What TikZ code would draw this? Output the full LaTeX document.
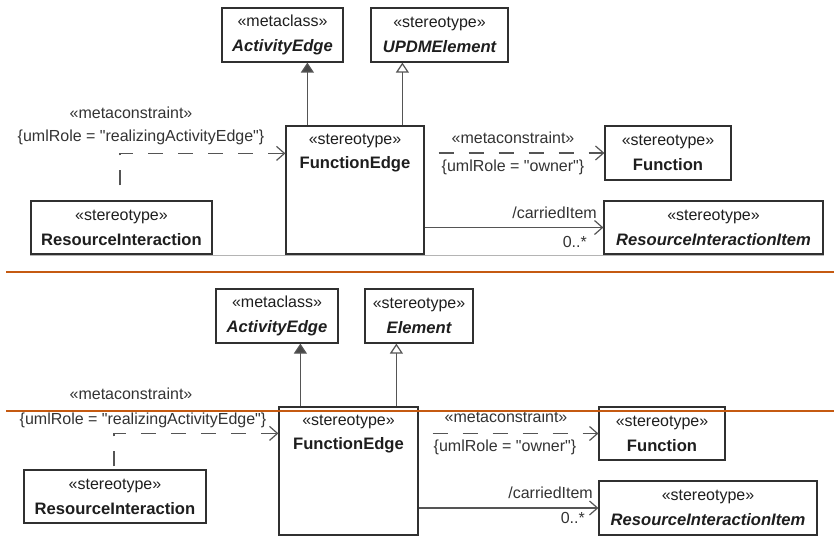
\documentclass[tikz,border=0pt]{standalone}
\usepackage{fontspec}
\newfontfamily\umlfont{Liberation Sans}
\usetikzlibrary{arrows.meta,calc}

\definecolor{boxline}{HTML}{303030}
\definecolor{connline}{HTML}{555555}
\definecolor{txt}{HTML}{1E1E1E}
\definecolor{lbltxt}{HTML}{333333}
\definecolor{rulerorange}{HTML}{C55A11}
\definecolor{shadowgray}{HTML}{B4B4B4}

\newcommand{\cname}[1]{{\fontsize{16.6}{25}\selectfont\bfseries #1}}
\newcommand{\aname}[1]{{\fontsize{16.6}{25}\selectfont\bfseries\itshape #1}}

\tikzset{
  cls/.style={draw=boxline, line width=1.2pt, fill=white, rectangle, inner sep=0pt,
    align=center, text=txt, font=\umlfont\fontsize{16}{25}\selectfont},
  clstext/.style={inner sep=0pt, align=center, text=txt,
    font=\umlfont\fontsize{16}{24}\selectfont},
  lbl/.style={inner sep=0pt, text=lbltxt, font=\umlfont\fontsize{16}{19}\selectfont},
  genfilled/.style={draw=connline, line width=1.2pt,
    -{Triangle[width=13pt, length=10pt, fill=connline!85!black]}},
  genopen/.style={draw=connline, line width=1.2pt,
    -{Triangle[open, width=13pt, length=10pt, fill=white]}},
  dep/.style={draw=connline, line width=1.2pt, dash pattern=on 15pt off 15pt,
    -{Straight Barb[length=8pt, width=14pt]}},
  assoc/.style={draw=connline, line width=1.2pt,
    -{Straight Barb[length=8pt, width=14pt]}},
  ruler/.style={draw=rulerorange, line width=2pt},
}

\begin{document}
\begin{tikzpicture}[x=1pt, y=-1pt]
\useasboundingbox (0,0) rectangle (834,540);

% ---------- upper variant ----------
\node[cls, minimum width=121pt, minimum height=54pt] (ae) at (282.5,35)
  {«metaclass»\\\aname{ActivityEdge}};
\node[cls, minimum width=137pt, minimum height=54pt] (upd) at (439.5,35)
  {«stereotype»\\\aname{UPDMElement}};
\node[cls, minimum width=138pt, minimum height=128pt] (fe) at (355,190) {};
\node[clstext] (fet) at ($(fe.north)+(0,28)$) {«stereotype»\\\cname{FunctionEdge}};
\node[cls, minimum width=126pt, minimum height=54pt] (fn) at (668,153)
  {«stereotype»\\\cname{Function}};
\node[cls, minimum width=219pt, minimum height=53pt] (rii) at (713.5,227.5)
  {«stereotype»\\\aname{ResourceInteractionItem}};
\node[cls, minimum width=181pt, minimum height=53pt] (ri) at (121.5,227.5)
  {«stereotype»\\\cname{ResourceInteraction}};

\draw[genfilled] ($(fe.north west)+(22,0)$) coordinate (g1) -- (g1 |- ae.south);
\draw[genopen] ($(fe.north west)+(117,0)$) coordinate (g2) -- (g2 |- upd.south);
\draw[dep, dash phase=15pt] ($(ri.north)+(-1.5,0)$) |- ($(fe.north west)+(0,28)$);
\draw[dep, dash phase=16pt] (fe.east |- fn.west) -- (fn.west);
\draw[assoc] (fe.east |- rii.west) -- (rii.west);

\node[lbl] (mc1) at (131,113) {«metaconstraint»};
\node[lbl] (ur1) at (141,137) {\{umlRole = "realizingActivityEdge"\}};
\node[lbl] (mc2) at (513,138) {«metaconstraint»};
\node[lbl] (ur2) at (513,167) {\{umlRole = "owner"\}};
\node[lbl, anchor=east] (ci1) at (597,213) {/carriedItem};
\node[lbl, anchor=east] (m1) at (587,242) {0..*};

% faint edge under the upper variant
\draw[shadowgray, line width=1.5pt] (30,255.5) -- (824,255.5);

% ---------- lower variant ----------
\node[cls, minimum width=122pt, minimum height=54pt] (ae2) at (277,316)
  {«metaclass»\\\aname{ActivityEdge}};
\node[cls, minimum width=108pt, minimum height=54pt] (el) at (419,316)
  {«stereotype»\\\aname{Element}};
\node[cls, minimum width=139pt, minimum height=128pt] (fe2) at (348.5,471) {};
\node[clstext] (fet2) at ($(fe2.north)+(0,28)$) {«stereotype»\\\cname{FunctionEdge}};
\node[cls, minimum width=126pt, minimum height=53pt] (fn2) at (662,433.5)
  {«stereotype»\\\cname{Function}};
\node[cls, minimum width=218pt, minimum height=54pt] (rii2) at (708,508)
  {«stereotype»\\\aname{ResourceInteractionItem}};
\node[cls, minimum width=182pt, minimum height=53pt] (ri2) at (115,496.5)
  {«stereotype»\\\cname{ResourceInteraction}};

\draw[genfilled] ($(fe2.north west)+(22,0)$) coordinate (g3) -- (g3 |- ae2.south);
\draw[genopen] ($(fe2.north west)+(118,0)$) coordinate (g4) -- (g4 |- el.south);
\draw[dep, dash phase=27pt] ($(ri2.north)+(-1,0)$) |- ($(fe2.north west)+(0,27)$);
\draw[dep, dash phase=16pt] (fe2.east |- fn2.west) -- (fn2.west);
\draw[assoc] (fe2.east |- rii2.west) -- (rii2.west);

\node[lbl] (mc3) at (131,394) {«metaconstraint»};
\node[lbl] (ur3) at (143,420) {\{umlRole = "realizingActivityEdge"\}};
\node[lbl] (mc4) at (506,417) {«metaconstraint»};
\node[lbl] (ur4) at (505,447) {\{umlRole = "owner"\}};
\node[lbl, anchor=east] (ci2) at (593,493) {/carriedItem};
\node[lbl, anchor=east] (m2) at (585,518) {0..*};

% orange rules across the picture
\draw[ruler] (6,272) -- (834,272);
\draw[ruler] (6,410.5) -- (834,410.5);
\end{tikzpicture}
\end{document}
